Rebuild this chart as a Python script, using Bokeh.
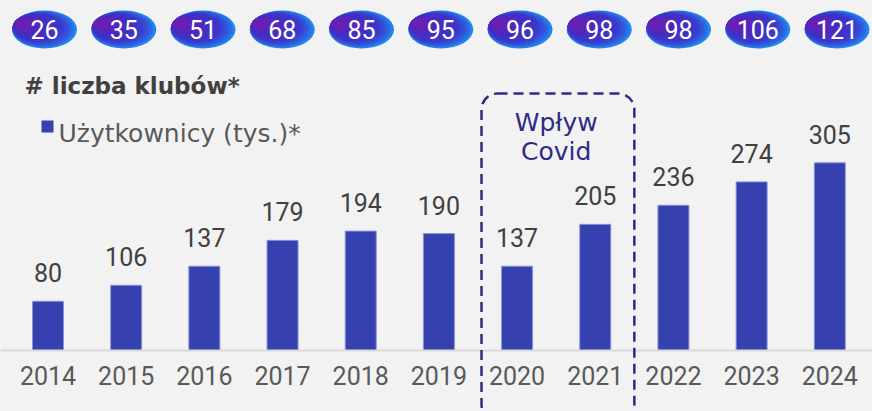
import math
from bokeh.plotting import figure
from bokeh.core.properties import value
from bokeh.models import (Range1d, ColumnDataSource, LabelSet, Label, FixedTicker, Grid,
                          BoxAnnotation, LinearAxis, GlobalInlineStyleSheet, LinearScale)
from bokeh.transform import dodge
from bokeh.embed import file_html
from bokeh.resources import INLINE

# ---------------- data ----------------
years = ["2014", "2015", "2016", "2017", "2018", "2019", "2020", "2021", "2022", "2023", "2024"]
users = [80, 106, 137, 179, 194, 190, 137, 205, 236, 274, 305]   # Użytkownicy (tys.)
clubs = [26, 35, 51, 68, 85, 95, 96, 98, 98, 106, 121]          # liczba klubów
title_text = "# liczba klubów*"
legend_text = "Użytkownicy (tys.)*"
covid_lines = ["Wpływ", "Covid"]
covid_years = ["2020", "2021"]

# ---------------- layout constants (page pixels) ----------------
W, H = 872, 411
BASE_PX = 350.0          # baseline position from top (px)
PX_PER_UNIT = 0.6154     # px per thousand users
BAR_SPACING = 78.18      # px between bar centres
BAR_FIRST = 47.5         # px of first bar centre
PILL_SPACING = 79.25
PILL_FIRST = 44.0

BAR_COLOR = "#3641b0"
TXT_DARK = "#404040"
TXT_MID = "#595959"
NAVY = "#2d2b86"
BG = "#f2f2f2"
NUM_FONT = "Roboto"
WORD_FONT = "DejaVu Sans"


def sy(px):
    return (BASE_PX - px) / PX_PER_UNIT


def sx(px):
    return (px - BAR_FIRST) / BAR_SPACING


idx = list(range(len(years)))

p = figure(width=W, height=H,
           x_range=Range1d(sx(0), sx(W)),
           y_range=Range1d(sy(H), sy(0)),
           output_backend="svg", toolbar_location=None,
           x_axis_location=None, y_axis_location=None,
           min_border=0, background_fill_color=BG, border_fill_color=BG,
           outline_line_color=None)
p.stylesheets = [GlobalInlineStyleSheet(css="html, body { background: #f2f2f2; }")]
for g in p.select(type=Grid):
    g.visible = False

# pills have their own horizontal scale
p.extra_x_ranges["pills"] = Range1d(-PILL_FIRST / PILL_SPACING, (W - PILL_FIRST) / PILL_SPACING)
p.extra_x_scales["pills"] = LinearScale()

src = ColumnDataSource(dict(
    idx=idx,
    years=years,
    users=users,
    users_str=[str(v) for v in users],
    clubs_str=[str(c) for c in clubs],
))

# ---------------- bars ----------------
p.vbar(x="idx", top="users", width=31 / BAR_SPACING, source=src,
       fill_color=BAR_COLOR, line_color="#8b93d9", line_width=1)

p.add_layout(LabelSet(x="idx", y="users", text="users_str", source=src,
                      y_offset=19, text_align="center", text_baseline="alphabetic",
                      text_font=value(NUM_FONT), text_font_size=value("25px"),
                      text_color=TXT_DARK))

# ---------------- x axis at baseline ----------------
ax = LinearAxis(fixed_location=0, ticker=FixedTicker(ticks=idx),
                major_label_overrides={i: y for i, y in zip(idx, years)})
ax.axis_line_color = "#d9d9d9"
ax.axis_line_width = 2
ax.major_tick_line_color = None
ax.minor_tick_line_color = None
ax.major_label_standoff = 9
ax.major_label_text_font = NUM_FONT
ax.major_label_text_font_size = "25px"
ax.major_label_text_color = TXT_MID
p.add_layout(ax, "below")

# ---------------- pills (gradient approximated by nested ellipses) ----------------
PILL_W, PILL_H = 65, 38
PILL_Y = sy(29)
stops = [(0.0, (0x22, 0x84, 0xf0)), (0.10, (0x30, 0x5c, 0xdc)),
         (0.28, (0x3a, 0x38, 0xcb)), (0.65, (0x4a, 0x2a, 0xc1)),
         (1.0, (0x6a, 0x1f, 0xb3))]


def grad(t):
    for (t0, c0), (t1, c1) in zip(stops[:-1], stops[1:]):
        if t <= t1:
            f = (t - t0) / (t1 - t0)
            return "#%02x%02x%02x" % tuple(int(round(a + (b - a) * f)) for a, b in zip(c0, c1))
    return "#%02x%02x%02x" % stops[-1][1]


N = 16
ANG = math.radians(25)
for k in range(N):
    t = k / (N - 1)
    s = 1 - 0.8 * t
    dx_px = -(1 - s) * PILL_W / 2 * math.cos(ANG)
    dy_px = (1 - s) * PILL_H / 2 * math.sin(ANG)   # upward
    p.ellipse(x=dodge("idx", dx_px / PILL_SPACING), y=PILL_Y + dy_px / PX_PER_UNIT,
              width=PILL_W * s, height=PILL_H * s,
              width_units="screen", height_units="screen",
              fill_color=grad(t), line_color=None, source=src, x_range_name="pills")

p.add_layout(LabelSet(x="idx", y=sy(38.5), text="clubs_str", source=src, x_range_name="pills",
                      text_align="center", text_baseline="alphabetic",
                      text_font=value(NUM_FONT), text_font_size=value("25px"),
                      text_color="white"))

# ---------------- title / legend ----------------
p.add_layout(Label(x=sx(24), y=sy(85), text=title_text, text_font=WORD_FONT,
                   text_font_style="bold", text_font_size="23px", text_color=TXT_DARK,
                   text_baseline="alphabetic"))

p.scatter(x=[sx(47)], y=[sy(126)], marker="square", size=12,
          fill_color=BAR_COLOR, line_color=None)
p.add_layout(Label(x=sx(58), y=sy(133), text=legend_text, text_font=WORD_FONT,
                   text_font_size="25px", text_color=TXT_MID, text_baseline="alphabetic"))

# ---------------- Covid box ----------------
i0 = years.index(covid_years[0])
i1 = years.index(covid_years[1])
p.add_layout(BoxAnnotation(left=i0 - 0.455, right=i1 + 0.5, top=sy(93), bottom=sy(420),
                           fill_alpha=0, line_color=NAVY, line_alpha=1, line_width=2.5,
                           line_dash="10 6", border_radius=16))
cx = (i0 + i1) / 2
for line, base in zip(covid_lines, [121.7, 150.7]):
    p.add_layout(Label(x=cx, y=sy(base), text=line, text_align="center",
                       text_baseline="alphabetic", text_font=WORD_FONT,
                       text_font_size="25px", text_color=NAVY))

open("out.html", "w").write(file_html(p, INLINE))
